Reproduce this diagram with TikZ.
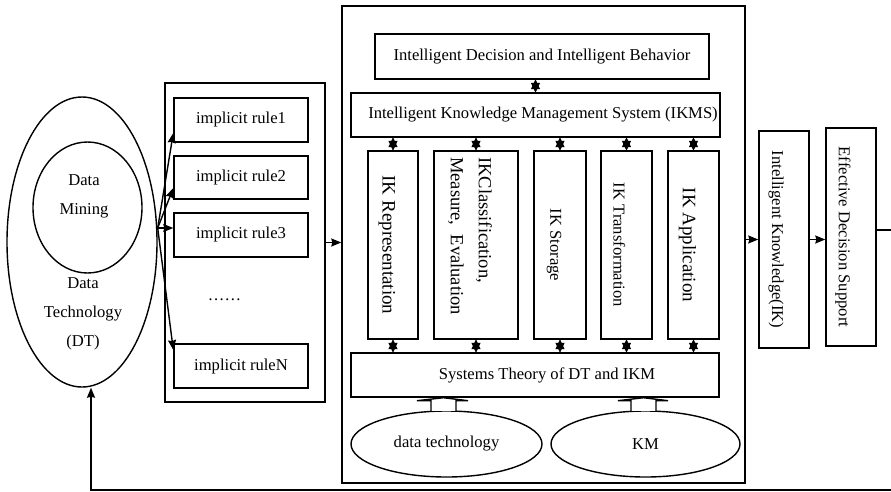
\documentclass[tikz,border=0pt]{standalone}
\usepackage{fontspec}
\setmainfont{Liberation Serif}
\usetikzlibrary{arrows.meta,shapes.geometric,fit,calc}
\begin{document}
\begin{tikzpicture}[x=1pt,y=-1pt,
  lw/.style={line width=1.4pt},
  box/.style={draw, lw, rectangle, inner sep=0pt, font=\fontsize{16.6}{29}\selectfont},
  ell/.style={draw, lw, ellipse, inner sep=0pt, font=\fontsize{16.6}{29}\selectfont},
  txt/.style={inner sep=0pt, font=\fontsize{16.6}{29}\selectfont, align=center},
  bigtxt/.style={inner sep=0pt, font=\fontsize{19}{28}\selectfont, align=center},
  arr/.style={lw, -{Stealth[length=10pt,width=8pt,inset=1pt]}},
  dbl/.style={line width=0.8pt, shorten >=-0.5pt, shorten <=-0.5pt, {Triangle[length=10pt,width=9pt]}-{Triangle[length=10pt,width=9pt]}},
  blk/.style={lw, fill=white, line join=miter},
]
\fill[white] (0,0) rectangle (891,491);
\useasboundingbox (0,0) rectangle (891,491);

% left: data technology / data mining
\node[ell, minimum width=150pt, minimum height=290pt] (dt) at (82,242) {};
\node[ell, minimum width=109pt, minimum height=131pt] (dm) at (87.5,207.5) {};
\node[txt] (dmtxt) at (84,196) {Data\\Mining};
\node[txt] (dttxt) at (83,314) {Data\\Technology\\(DT)};

% implicit rules
\node[box, fit={(165,83) (325,402)}] (rules) {};
\node[box, fit={(174,98) (308,142)}] (r1) {};
\node[txt] at (r1.center) {implicit rule1};
\node[box, fit={(174,156) (308,199)}] (r2) {};
\node[txt] at (r2.center) {implicit rule2};
\node[box, fit={(174,213) (308,257)}] (r3) {};
\node[txt] at (r3.center) {implicit rule3};
\node[box, fit={(174,344) (308,388)}] (rN) {};
\node[txt] at (rN.center) {implicit ruleN};
\node[txt, anchor=base] (dots) at (224.5,300) {……};

\coordinate (src) at ([yshift=14pt]dt.east);
\draw[arr] (src) -- ([yshift=-13pt]r1.west);
\draw[arr] (src) -- ([yshift=-10.5pt]r2.west);
\draw[arr] (src) -- ([yshift=7pt]r3.west);
\draw[arr] (src) -- ([yshift=16pt]rN.west);

% main frame
\node[box, fit={(342,6) (745,483)}] (main) {};
\node[box, fit={(375,34) (709,79)}] (idib) {};
\node[txt] (idibtxt) at (idib.center) {Intelligent Decision and Intelligent Behavior};
\node[box, fit={(351,93) (720,137)}] (ikms) {};
\node[txt] (ikmstxt) at (543,115) {Intelligent Knowledge Management System (IKMS)};

\node[box, fit={(368,151) (418,339)}] (b1) {};
\node[box, fit={(434,151) (518,339)}] (b2) {};
\node[box, fit={(534,151) (586,339)}] (b3) {};
\node[box, fit={(601,151) (652,339)}] (b4) {};
\node[box, fit={(668,151) (719,339)}] (b5) {};
\node[bigtxt, rotate=-90] (t1) at ([xshift=-6pt]b1.center) {IK Representation};
\node[inner sep=0pt, font=\fontsize{18.5}{28}\selectfont, align=left, rotate=-90, anchor=west] (t2) at (470,157) {IKClassification,\\Measure,\ \ Evaluation};
\node[txt, rotate=-90] (t3) at ([xshift=-6pt]b3.center) {IK Storage};
\node[txt, rotate=-90] (t4) at ([xshift=-7pt]b4.center) {IK Transformation};
\node[bigtxt, rotate=-90] (t5) at ([xshift=-6pt]b5.center) {IK Application};

\node[box, fit={(351,353) (719,397)}] (sys) {};
\node[txt] (systxt) at (547,375) {Systems Theory of DT and IKM};

\node[ell, minimum width=191pt, minimum height=66pt] (dtech) at (446.5,444) {data technology};
\node[ell, minimum width=189pt, minimum height=66pt] (km) at (645.5,444) {KM};

% double arrows
\draw[dbl] (ikms.north) -- (ikms.north |- idib.south);
\foreach \b in {b1,b2,b3,b4,b5}{
  \draw[dbl] (\b.north) -- (\b.north |- ikms.south);
  \draw[dbl] (\b.south) -- (\b.south |- sys.north);
}

% block arrows
\draw[blk] ($(dtech.north)+(-15.5,0.5)$) -- ($(dtech.north |- sys.south)+(-15.5,3)$) -- ++(-14,0)
  -- ($(dtech.north |- sys.south)+(-3,0)$) -- ($(dtech.north |- sys.south)+(21.5,3)$) -- ++(-12,0)
  -- ($(dtech.north)+(9.5,0.5)$);
\draw[blk] ($(km.north)+(-14.5,0.5)$) -- ($(km.north |- sys.south)+(-14.5,3)$) -- ++(-13,0)
  -- ($(km.north |- sys.south)+(-2,0)$) -- ($(km.north |- sys.south)+(22.5,3)$) -- ++(-12,0)
  -- ($(km.north)+(10.5,0.5)$);

% right boxes
\node[box, fit={(759,131) (809,348)}] (ik) {};
\node[txt, rotate=-90] (iktxt) at ([xshift=-8pt]ik.center) {Intelligent Knowledge(IK)};
\node[box, fit={(826,128) (876,346)}] (eds) {};
\node[txt, rotate=-90] (edstxt) at ([xshift=-8pt]eds.center) {Effective Decision Support};

\draw[arr] (rules.east) -- (rules.east -| main.west);
\draw[arr] (ik.west -| main.east) -- (ik.west);
\draw[arr] (ik.east) -- (ik.east -| eds.west);

% feedback
\coordinate (fbc) at (91,490);
\draw[arr] ([yshift=7pt]eds.east) -- ++(20,0) |- (fbc) -- (fbc |- dt.south);
\end{tikzpicture}
\end{document}
